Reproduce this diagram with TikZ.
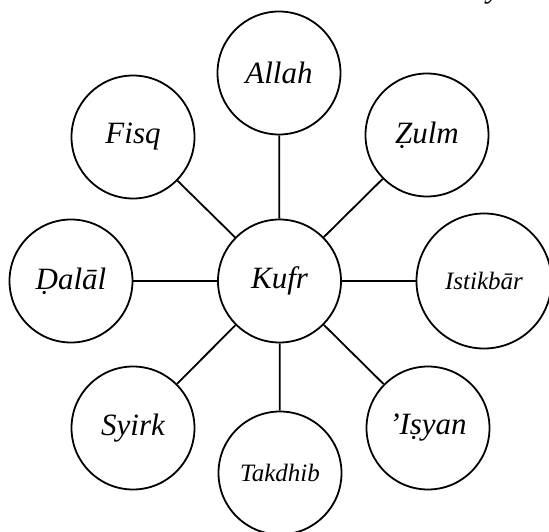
\documentclass[tikz,border=0pt]{standalone}
\usepackage{fontspec}
\setmainfont{Liberation Serif}
\begin{document}
\begin{tikzpicture}[x=1pt,y=-1pt,
  bub/.style={circle,draw,line width=1.8pt,minimum size=123pt,inner sep=0pt,font=\itshape\fontsize{31}{33}\selectfont},
  bigbub/.style={bub,minimum size=135pt},
  smalltxt/.style={font=\itshape\fontsize{25}{27}\selectfont},
  link/.style={line width=1.8pt}]
\useasboundingbox (0,0) rectangle (549,532);
\node[bub] (kufr) at (279.5,281) {Kufr};
\node[bub] (allah) at (279,73) {Allah};
\node[bub] (fisq) at (133,137) {Fisq};
\node[bub] (zulm) at (427,135) {Ẓulm};
\node[bub] (dalal) at (71,281) {Ḍalāl};
\node[bigbub,smalltxt] (istikbar) at (484,281) {Istikbār};
\node[bub] (syirk) at (133,428) {Syirk};
\node[bub,smalltxt] (takdhib) at (280,473) {Takdhib};
\node[bub] (isyan) at (428,428) {\symbol{"27}Iṣyan};
\foreach \n in {allah,fisq,zulm,dalal,istikbar,syirk,takdhib,isyan}
  \draw[link] (kufr) -- (\n);
\node[anchor=base west,inner sep=0pt,font=\itshape\fontsize{31}{33}\selectfont] (frag) at (487,-2) {y};
\end{tikzpicture}
\end{document}
